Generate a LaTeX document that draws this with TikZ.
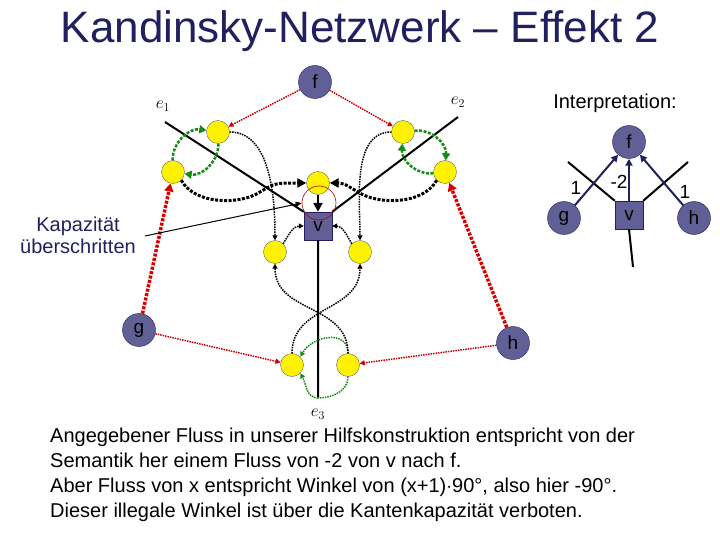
\documentclass[tikz,border=0pt]{standalone}
\usepackage{fontspec}
\setmainfont{Liberation Sans}
\usetikzlibrary{arrows.meta}
\definecolor{navy}{RGB}{32,32,96}
\definecolor{nfill}{RGB}{96,96,150}
\definecolor{gr}{RGB}{20,140,20}
\begin{document}
\begin{tikzpicture}[x=1pt,y=-1pt,
 big/.style={circle,draw=navy,fill=nfill,minimum size=33pt,inner sep=0pt,font=\fontsize{19}{19}\selectfont},
 sq/.style={draw=navy,fill=nfill,minimum size=28pt,inner sep=0pt,font=\fontsize{19}{19}\selectfont},
 yel/.style={circle,draw=black!60,fill=yellow,minimum size=23pt,inner sep=0pt},
 redthin/.style={draw=red!80!black,dash pattern=on 1.5pt off 1pt,line width=1.5pt,-{Triangle[length=5pt,width=5pt]}},
 redthick/.style={draw=red!85!black,dash pattern=on 3pt off 1.5pt,line width=3.5pt,-{Triangle[length=8pt,width=9pt]}},
 grn/.style={draw=gr,dash pattern=on 3pt off 1.5pt,line width=2.5pt,-{Triangle[length=7pt,width=8pt]}},
 grnthin/.style={draw=gr,dash pattern=on 1.5pt off 1pt,line width=1.5pt,-{Triangle[length=5pt,width=5pt]}},
 blkthick/.style={draw=black,dash pattern=on 3pt off 1.5pt,line width=3pt,-{Triangle[length=9pt,width=9pt]}},
 blkthin/.style={draw=black,dash pattern=on 1.5pt off 1pt,line width=1.5pt,-{Triangle[length=5pt,width=5pt]}},
 lab/.style={font=\itshape\fontsize{18}{18}\selectfont\rmfamily}]
\useasboundingbox (0,0) rectangle (720,540);
\node[text=navy,font=\fontsize{44}{44}\selectfont] (title) at (360,31) {Kandinsky-Netzwerk – Effekt 2};
% left diagram
\coordinate (e1s) at (165,122); \coordinate (e2s) at (458,117); \coordinate (e3s) at (318,398);
\node[lab] (e1l) at (163,106) {$e_1$};
\node[lab] (e2l) at (458,102) {$e_2$};
\node[lab] (e3l) at (318,414) {$e_3$};
\node[sq] (v) at (318,226) {v};
\draw[line width=2pt] (e1s) -- (v.north west) (e2s) -- (v.north east) (v.south) -- (e3s);
\node[big] (f) at (315,82) {f};
\node[big] (g) at (139,330) {g};
\node[big] (h) at (513,343) {h};
\node[yel] (y1) at (218,132) {};
\node[yel] (y2) at (173,172) {};
\node[yel] (y3) at (403,132) {};
\node[yel] (y4) at (445,172) {};
\node[yel] (yt) at (318,183) {};
\node[yel] (y5) at (275,252) {};
\node[yel] (y6) at (360,252) {};
\node[yel] (y7) at (292,365) {};
\node[yel] (y8) at (348,365) {};
\draw[redthin] (f) -- (y1);
\draw[redthin] (f) -- (y3);
\draw[redthin] (g) -- (y7);
\draw[redthin] (h) -- (y8);
\draw[redthick] (g) -- (y2);
\draw[redthick] (h) -- (y4);
\draw[grn] (y2) to[bend left=50] (y1);
\draw[grn] (y1) to[bend left=50] (y2);
\draw[grn] (y4) to[bend left=50] (y3);
\draw[grn] (y3) to[bend left=50] (y4);
\draw[grnthin] (y8.north) to[out=90,in=60,looseness=1.3] (y7.north east);
\draw[grnthin] (e3s) to[out=180,in=-60] (y7.south east);
\draw[grnthin,-] (y8.south) to[out=-90,in=0] (e3s);
\draw[blkthick] (y2.south east) .. controls (195,205) and (240,205) .. (260,192) .. controls (275,183) .. (yt.west);
\draw[blkthick] (y4.south west) .. controls (423,205) and (378,205) .. (358,192) .. controls (343,183) .. (yt.east);
\draw[draw=black,line width=2.5pt,-{Triangle[length=9pt,width=9pt]}] (yt) -- (v);
\draw[blkthin] (y1.east) to[out=0,in=90,looseness=0.9] (y5.north);
\draw[blkthin] (y3.west) to[out=180,in=90,looseness=0.9] (y6.north);
\draw[blkthin] (y5.north east) to[out=60,in=180] (v.west);
\draw[blkthin] (y6.north west) to[out=120,in=0] (v.east);
\draw[blkthin] (y7.north) to[out=90,in=-90,looseness=1.1] (y6.south);
\draw[blkthin] (y8.north) to[out=90,in=-90,looseness=1.1] (y5.south);
\node[circle,draw=red!70!black,minimum size=34pt,inner sep=0pt,line width=0.6pt] (rc) at (319,203) {};
\node[align=center,font=\fontsize{20}{22}\selectfont,text=navy] (kap) at (78,235) {Kapazität\\überschritten};
\coordinate (ks) at (145,236);
\draw[line width=1pt,-{Triangle[length=6pt,width=5pt]}] (ks) -- (rc.west);
% right
\node[font=\fontsize{20}{20}\selectfont] (interp) at (615,103) {Interpretation:};
\node[sq] (v2) at (629,215) {v};
\coordinate (a1) at (568,162); \coordinate (a2) at (688,162); \coordinate (a3) at (633,267);
\draw[line width=2pt] (a1) -- (v2.north west) (a2) -- (v2.north east) (v2.south) -- (a3);
\node[big] (f2) at (629,142) {f};
\node[big] (g2) at (564,218) {g};
\node[big] (h2) at (694,218) {h};
\draw[navy,line width=2pt,-{Triangle[length=7pt,width=7pt]}] (g2) -- (f2);
\draw[navy,line width=2pt,-{Triangle[length=7pt,width=7pt]}] (h2) -- (f2);
\draw[navy,line width=2pt,-{Triangle[length=7pt,width=7pt]}] (v2) -- (f2);
\node[font=\fontsize{19}{19}\selectfont] (l1) at (576,188) {1};
\node[font=\fontsize{19}{19}\selectfont] (l2) at (619,182) {-2};
\node[font=\fontsize{19}{19}\selectfont] (l3) at (685,192) {1};
\node[anchor=north west,align=left,font=\fontsize{20}{25}\selectfont,inner sep=0pt] (txt) at (50,428) {Angegebener Fluss in unserer Hilfskonstruktion entspricht von der\\Semantik her einem Fluss von -2 von v nach f.\\Aber Fluss von x entspricht Winkel von (x+1)$\cdot$90°, also hier -90°.\\Dieser illegale Winkel ist über die Kantenkapazität verboten.};
\end{tikzpicture}
\end{document}
